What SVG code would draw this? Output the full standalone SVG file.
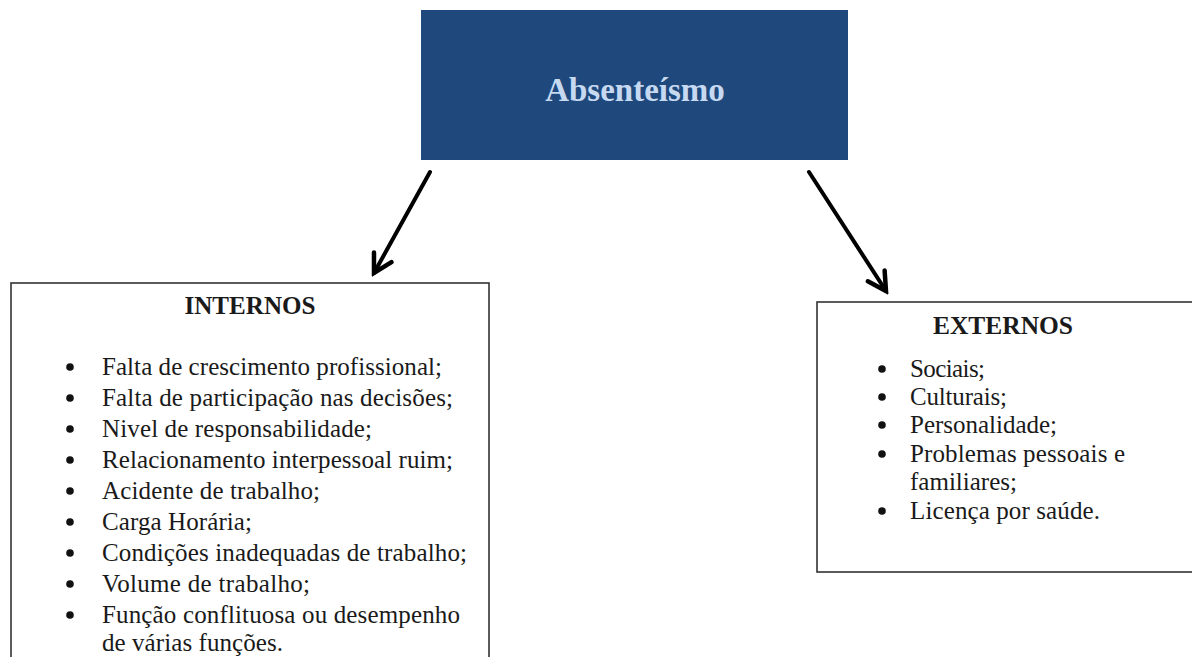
<svg xmlns="http://www.w3.org/2000/svg" width="1192" height="657" viewBox="0 0 1192 657">
<style>
.box{fill:#ffffff;stroke:#333333;stroke-width:1.6}
.hd{font-family:"Liberation Serif","Times New Roman",serif;font-weight:bold;font-size:25px;fill:#1a1a1a;text-anchor:middle}
.it{font-family:"Liberation Serif","Times New Roman",serif;font-size:25px;fill:#1a1a1a}
.bl{fill:#111111}
.conn{stroke:#000000;stroke-width:4;fill:none;stroke-linecap:round}
</style>
<defs>
<marker id="ah" markerUnits="userSpaceOnUse" markerWidth="26" markerHeight="26" viewBox="0 0 26 26" refX="22" refY="13" orient="auto">
<path d="M4,3 L22,13 L4,23" fill="none" stroke="#000" stroke-width="4.5" stroke-linejoin="miter" stroke-linecap="round"/>
</marker>
</defs>
<rect width="1192" height="657" fill="#ffffff"/>
<g id="absenteismo">
<rect x="421" y="10" width="427" height="150" fill="#1f497d"/>
<text x="635" y="101" font-family="Liberation Serif,Times New Roman,serif" font-weight="bold" font-size="33" fill="#c6d9f1" text-anchor="middle">Absenteísmo</text>
</g>
<g id="connectors">
<line class="conn" x1="430" y1="172" x2="374" y2="273" marker-end="url(#ah)"/>
<line class="conn" x1="809" y1="172" x2="886" y2="291" marker-end="url(#ah)"/>
</g>
<g id="internos">
<rect class="box" x="11" y="283" width="478" height="390"/>
<text class="hd" x="250" y="314" textLength="131" lengthAdjust="spacingAndGlyphs">INTERNOS</text>
<circle class="bl" cx="70" cy="367" r="3.8"/>
<circle class="bl" cx="70" cy="398" r="3.8"/>
<circle class="bl" cx="70" cy="429" r="3.8"/>
<circle class="bl" cx="70" cy="460" r="3.8"/>
<circle class="bl" cx="70" cy="491" r="3.8"/>
<circle class="bl" cx="70" cy="522" r="3.8"/>
<circle class="bl" cx="70" cy="553" r="3.8"/>
<circle class="bl" cx="70" cy="584" r="3.8"/>
<circle class="bl" cx="70" cy="615" r="3.8"/>
<text class="it" x="102" y="375" textLength="340" lengthAdjust="spacing">Falta de crescimento profissional;</text>
<text class="it" x="102" y="406" textLength="351" lengthAdjust="spacing">Falta de participação nas decisões;</text>
<text class="it" x="102" y="437" textLength="270" lengthAdjust="spacing">Nivel de responsabilidade;</text>
<text class="it" x="102" y="468" textLength="351" lengthAdjust="spacing">Relacionamento interpessoal ruim;</text>
<text class="it" x="102" y="499" textLength="218" lengthAdjust="spacing">Acidente de trabalho;</text>
<text class="it" x="102" y="530" textLength="150" lengthAdjust="spacing">Carga Horária;</text>
<text class="it" x="102" y="561" textLength="365" lengthAdjust="spacing">Condições inadequadas de trabalho;</text>
<text class="it" x="102" y="592" textLength="208" lengthAdjust="spacing">Volume de trabalho;</text>
<text class="it" x="102" y="623" textLength="358" lengthAdjust="spacing">Função conflituosa ou desempenho</text>
<text class="it" x="102" y="651" textLength="181" lengthAdjust="spacing">de várias funções.</text>
</g>
<g id="externos">
<rect class="box" x="817" y="302" width="385" height="270"/>
<text class="hd" x="1003" y="334" textLength="140" lengthAdjust="spacingAndGlyphs">EXTERNOS</text>
<circle class="bl" cx="882" cy="369" r="3.8"/>
<circle class="bl" cx="882" cy="397" r="3.8"/>
<circle class="bl" cx="882" cy="425" r="3.8"/>
<circle class="bl" cx="882" cy="454" r="3.8"/>
<circle class="bl" cx="882" cy="511" r="3.8"/>
<text class="it" x="910" y="377" textLength="75" lengthAdjust="spacing">Sociais;</text>
<text class="it" x="910" y="405" textLength="97" lengthAdjust="spacing">Culturais;</text>
<text class="it" x="910" y="433" textLength="147" lengthAdjust="spacing">Personalidade;</text>
<text class="it" x="910" y="462" textLength="215" lengthAdjust="spacing">Problemas pessoais e</text>
<text class="it" x="910" y="490" textLength="107" lengthAdjust="spacing">familiares;</text>
<text class="it" x="910" y="519" textLength="190" lengthAdjust="spacing">Licença por saúde.</text>
</g>
</svg>
